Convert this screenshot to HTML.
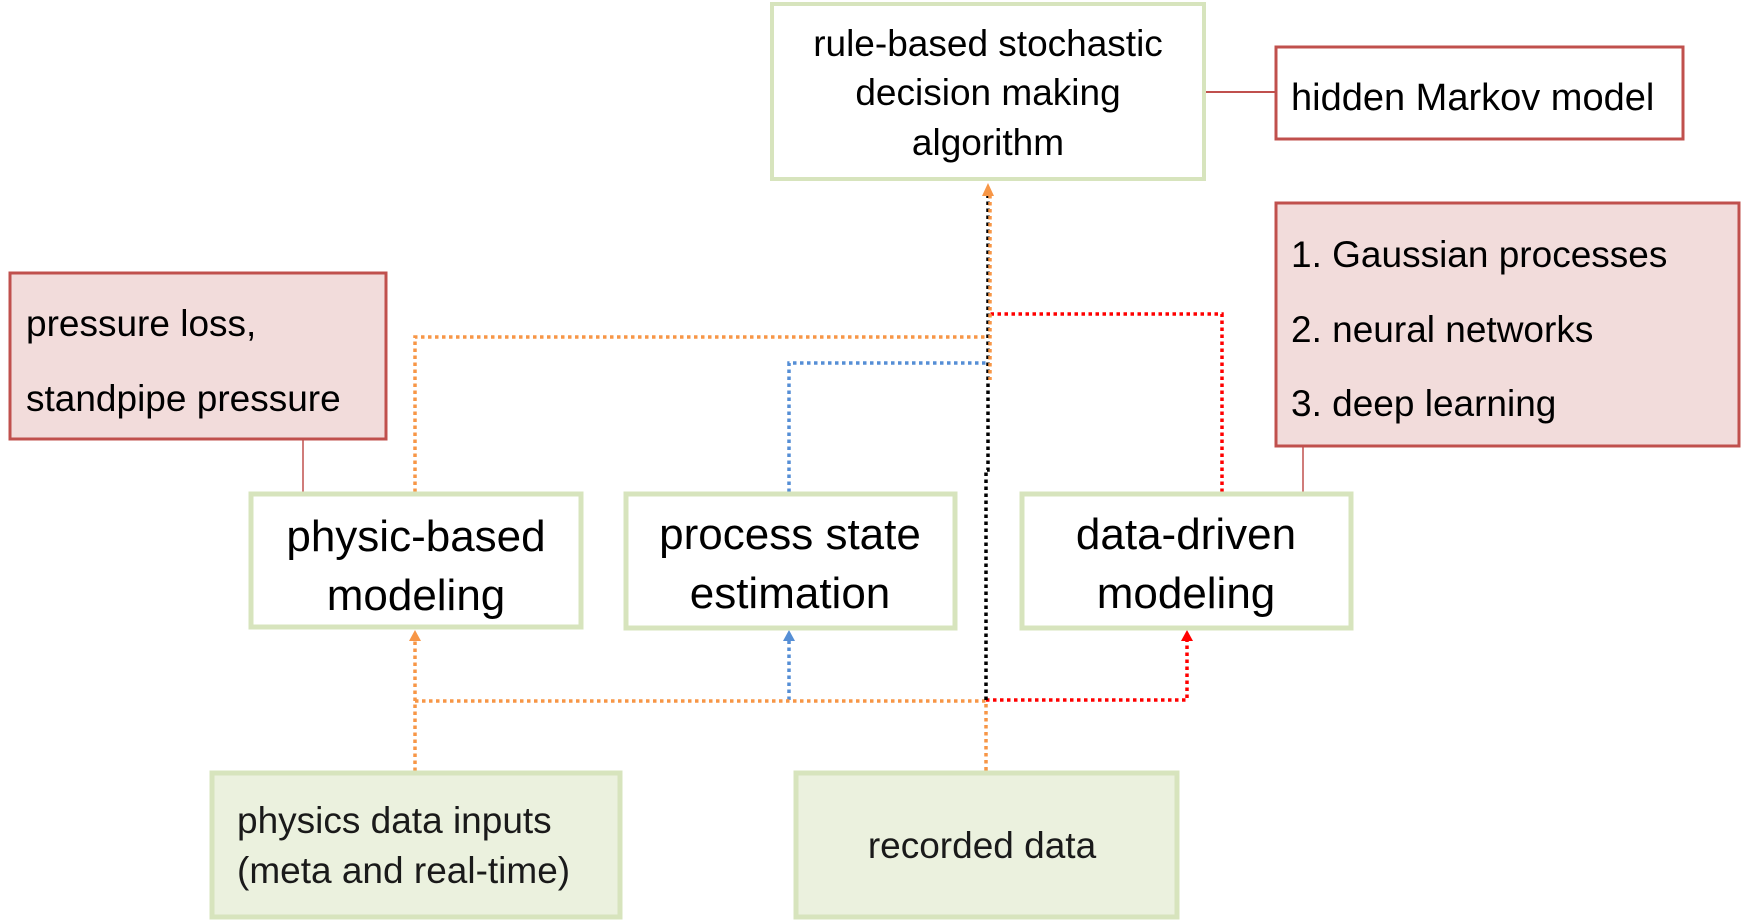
<!DOCTYPE html>
<html><head><meta charset="utf-8"><style>
html,body{margin:0;padding:0;background:#fff;}
svg{display:block;font-family:"Liberation Sans",sans-serif;}
</style></head><body>
<svg width="1741" height="920" viewBox="0 0 1741 920" xmlns="http://www.w3.org/2000/svg">
<line x1="1206" y1="92" x2="1275" y2="92" stroke="#c0504d" stroke-width="2"/>
<line x1="303" y1="440" x2="303" y2="492" stroke="#c0504d" stroke-width="1.5"/>
<line x1="1303" y1="446" x2="1303" y2="492" stroke="#c0504d" stroke-width="1.5"/>

<g fill="none" stroke-width="3.5" stroke-dasharray="3.5 3.5">
<polyline points="1222,492 1222,314 990,314" stroke="#ff0000"/>
<polyline points="986,700 1187,700 1187,640" stroke="#ff0000"/>
<polyline points="789,492 789,363 988,363" stroke="#558ed5"/>
<polyline points="789,700 789,640" stroke="#558ed5"/>
<polyline points="415,492 415,337 988,337" stroke="#f79646"/>
<polyline points="415,771 415,640" stroke="#f79646"/>
<polyline points="415,701 986,701 986,771" stroke="#f79646"/>
<polyline points="986,700 986,470 988,470 988,195" stroke="#000"/>
<line x1="990" y1="195" x2="990" y2="380" stroke="#f79646"/>
</g>
<path d="M982,196 L988,183 L994,196 Z" fill="#f79646"/>
<path d="M409,641 L415,630 L421,641 Z" fill="#f79646"/>
<path d="M783,641 L789,630 L795,641 Z" fill="#558ed5"/>
<path d="M1181,641 L1187,630 L1193,641 Z" fill="#ff0000"/>

<rect x="772" y="4" width="432" height="175" fill="#fff" stroke="#d7e4bd" stroke-width="4"/>
<g font-size="37" text-anchor="middle" fill="#000">
<text x="988" y="56">rule-based stochastic</text>
<text x="988" y="105">decision making</text>
<text x="988" y="155">algorithm</text>
</g>
<rect x="1276" y="47" width="407" height="92" fill="#fff" stroke="#c0504d" stroke-width="3"/>
<text x="1291" y="110" font-size="38">hidden Markov model</text>
<rect x="1276" y="203" width="463" height="243" fill="#f2dcdb" stroke="#c0504d" stroke-width="3"/>
<g font-size="37">
<text x="1291" y="267">1.  Gaussian processes</text>
<text x="1291" y="342">2.  neural networks</text>
<text x="1291" y="416">3.  deep learning</text>
</g>
<rect x="10" y="273" width="376" height="166" fill="#f2dcdb" stroke="#c0504d" stroke-width="3"/>
<g font-size="37">
<text x="26" y="336">pressure loss,</text>
<text x="26" y="411">standpipe pressure</text>
</g>
<g fill="#fff" stroke="#d7e4bd" stroke-width="5">
<rect x="251" y="494" width="330" height="133"/>
<rect x="626" y="494" width="329" height="134"/>
<rect x="1022" y="494" width="329" height="134"/>
</g>
<g font-size="44" text-anchor="middle">
<text x="416" y="551">physic-based</text>
<text x="416" y="610">modeling</text>
<text x="790" y="549">process state</text>
<text x="790" y="608">estimation</text>
<text x="1186" y="549">data-driven</text>
<text x="1186" y="608">modeling</text>
</g>
<g fill="#ebf1de" stroke="#d7e4bd" stroke-width="5">
<rect x="212" y="773" width="408" height="144"/>
<rect x="796" y="773" width="381" height="144"/>
</g>
<g font-size="37" fill="#1a1a1a">
<text x="237" y="833">physics data inputs</text>
<text x="237" y="883">(meta and real-time)</text>
<text x="982" y="858" text-anchor="middle">recorded data</text>
</g>
</svg>
</body></html>
